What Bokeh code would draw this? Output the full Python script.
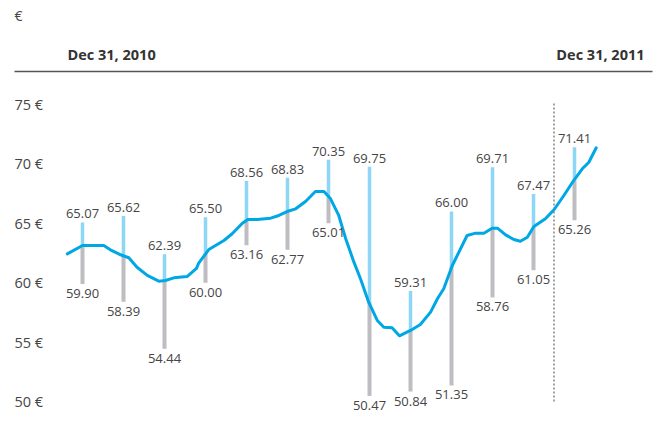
from bokeh.plotting import figure
from bokeh.models import Range1d, ColumnDataSource
from bokeh.core.properties import value
from bokeh.embed import file_html
from bokeh.resources import INLINE

# ---- data ----
bar_month = [0, 1, 2, 3, 4, 5, 6, 7, 8, 9, 10, 11, 12]
bar_high = [65.07, 65.62, 62.39, 65.50, 68.56, 68.83, 70.35, 69.75, 59.31, 66.00, 69.71, 67.47, 71.41]
bar_low = [59.90, 58.39, 54.44, 60.00, 63.16, 62.77, 65.01, 50.47, 50.84, 51.35, 58.76, 61.05, 65.26]
bar_split = [63.13, 62.25, 60.20, 62.50, 65.30, 66.00, 67.20, 58.40, 56.00, 61.40, 64.60, 64.70, 68.60]

line_t = [-0.37, 0.0, 0.52, 0.68, 0.93, 1.13, 1.33, 1.58, 1.86, 2.02, 2.23, 2.55, 2.78, 2.83,
          3.08, 3.45, 3.65, 3.90, 4.03, 4.26, 4.59, 4.79, 4.99, 5.20, 5.44, 5.68, 5.89, 6.05,
          6.25, 6.42, 6.62, 6.78, 6.98, 7.19, 7.35, 7.55, 7.73, 8.00, 8.24, 8.49, 8.66, 8.81,
          9.02, 9.38, 9.59, 9.79, 9.99, 10.12, 10.32, 10.52, 10.68, 10.85, 11.01, 11.29, 11.50,
          11.74, 11.98, 12.19, 12.35, 12.53]
line_price = [62.43, 63.13, 63.13, 62.77, 62.35, 62.10, 61.30, 60.61, 60.13, 60.19, 60.41, 60.52, 61.20, 61.62,
              62.79, 63.55, 64.12, 65.01, 65.32, 65.32, 65.43, 65.66, 65.99, 66.22, 66.84, 67.68, 67.68, 67.06,
              65.66, 63.70, 61.73, 60.33, 58.36, 56.82, 56.25, 56.20, 55.53, 55.98, 56.48, 57.52, 58.67, 59.49,
              61.45, 63.97, 64.17, 64.17, 64.59, 64.59, 64.03, 63.64, 63.49, 63.83, 64.73, 65.38, 66.14,
              67.34, 68.60, 69.59, 70.14, 71.36]

y_ticks = [50, 55, 60, 65, 70, 75]
y_tick_labels = ["50 €", "55 €", "60 €", "65 €", "70 €", "75 €"]
year_end = 11.5
header_left = "Dec 31, 2010"
header_right = "Dec 31, 2011"
unit_label = "€"

# ---- layout helpers (pixel -> data) ----
W, H = 659, 428
def dx(px):
    return (px - 82) / 41.0
def dy(py):
    return 75 - (py - 104) / 11.88

FONT = value("Open Sans")
TXT = "#454545"

p = figure(width=W, height=H, output_backend="svg", toolbar_location=None,
           x_range=Range1d(dx(0), dx(W)), y_range=Range1d(dy(H), dy(0)),
           x_axis_location=None, y_axis_location=None, min_border=0)
p.outline_line_color = None
p.xgrid.visible = False
p.ygrid.visible = False
p.background_fill_color = "white"
p.border_fill_color = "white"

# header
p.text(x=[dx(14)], y=[dy(15)], text=[unit_label], text_font=FONT, text_font_size="14px",
       text_color=TXT, text_align="left", text_baseline="middle")
p.text(x=[dx(67)], y=[dy(54)], text=[header_left], text_font=FONT, text_font_size="14.5px",
       text_font_style="bold", text_color="#333333", text_align="left", text_baseline="middle")
p.text(x=[dx(644)], y=[dy(54)], text=[header_right], text_font=FONT, text_font_size="14.5px",
       text_font_style="bold", text_color="#333333", text_align="right", text_baseline="middle")
p.segment(x0=[dx(14)], y0=[dy(71)], x1=[dx(652)], y1=[dy(71)], line_color="#555555", line_width=1.5)

# y tick labels
p.text(x=[dx(14)] * len(y_ticks), y=y_ticks, text=y_tick_labels, text_font=FONT,
       text_font_size="14.5px", text_color=TXT, text_align="left", text_baseline="middle")

# year-end dotted line
p.segment(x0=[year_end], y0=[50.0], x1=[year_end], y1=[75.1], line_color="#a3a3a3",
          line_width=2, line_dash="2 2")

src = ColumnDataSource(dict(x=bar_month, high=bar_high, low=bar_low, split=bar_split,
                            hl=["%.2f" % v for v in bar_high], ll=["%.2f" % v for v in bar_low]))

p.segment(x0="x", y0="low", x1="x", y1="split", source=src, line_color="#bdbdc2",
          line_width=4, line_cap="butt")
p.segment(x0="x", y0="split", x1="x", y1="high", source=src, line_color="#8dd6f5",
          line_width=3.5, line_cap="butt")

p.line(line_t, line_price, line_color="#00a7e5", line_width=3, line_join="round", line_cap="round")

p.text(x="x", y="high", text="hl", source=src, text_font=FONT, text_font_size="13px",
       text_color=TXT, text_align="center", text_baseline="bottom", y_offset=-4)
p.text(x="x", y="low", text="ll", source=src, text_font=FONT, text_font_size="13px",
       text_color=TXT, text_align="center", text_baseline="top", y_offset=5)

open("out.html", "w").write(file_html(p, INLINE))
